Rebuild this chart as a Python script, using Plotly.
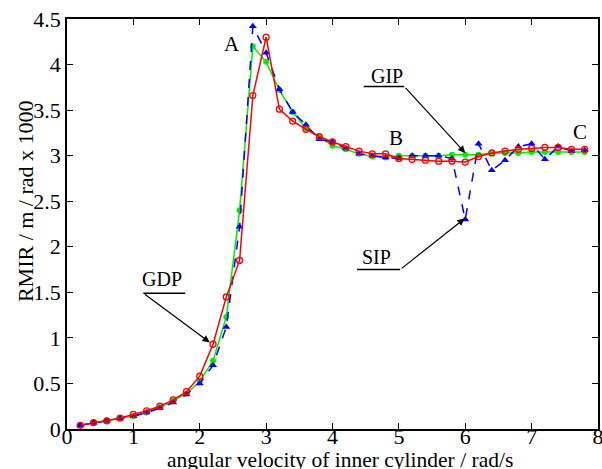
import plotly.graph_objects as go

omega = [0.2, 0.4, 0.6, 0.8, 1.0, 1.2, 1.4, 1.6, 1.8, 2.0, 2.2, 2.4, 2.6, 2.8, 3.0,
         3.2, 3.4, 3.6, 3.8, 4.0, 4.2, 4.4, 4.6, 4.8, 5.0, 5.2, 5.4, 5.6, 5.8, 6.0,
         6.2, 6.4, 6.6, 6.8, 7.0, 7.2, 7.4, 7.6, 7.8]

gdp = [0.04, 0.07, 0.09, 0.12, 0.16, 0.20, 0.25, 0.32, 0.41, 0.58, 0.93, 1.45, 1.85, 3.66, 4.30,
       3.51, 3.38, 3.29, 3.21, 3.15, 3.10, 3.05, 3.02, 3.02, 2.97, 2.96, 2.95, 2.94, 2.94, 2.93,
       2.99, 3.03, 3.05, 3.07, 3.08, 3.09, 3.09, 3.07, 3.07]

gip = [0.04, 0.07, 0.09, 0.12, 0.14, 0.18, 0.24, 0.31, 0.39, 0.52, 0.75, 1.23, 2.40, 4.20, 4.03,
       3.72, 3.48, 3.30, 3.21, 3.11, 3.07, 3.02, 2.99, 2.98, 3.00, 3.00, 3.00, 3.00, 3.01, 3.01,
       3.01, 3.03, 3.03, 3.03, 3.04, 3.04, 3.04, 3.04, 3.04]

sip = [0.04, 0.065, 0.09, 0.115, 0.14, 0.18, 0.23, 0.29, 0.38, 0.50, 0.70, 1.12, 2.22, 4.42, 4.13,
       3.73, 3.48, 3.34, 3.18, 3.15, 3.08, 3.02, 3.00, 2.98, 2.97, 3.00, 3.00, 3.00, 2.97, 2.30,
       3.13, 2.84, 2.95, 3.10, 3.13, 2.96, 3.10, 3.05, 3.06]

x_ticks = [0, 1, 2, 3, 4, 5, 6, 7, 8]
y_ticks = [0, 0.5, 1, 1.5, 2, 2.5, 3, 3.5, 4, 4.5]
y_tick_labels = ["0", "0.5", "1", "1.5", "2", "2.5", "3", "3.5", "4", "4.5"]

FONT = "Liberation Serif"

fig = go.Figure()
fig.add_trace(go.Scatter(x=omega, y=gip, mode="lines+markers", name="GIP",
                         line=dict(color="#00ee00", width=1.5),
                         marker=dict(symbol="circle", size=6, color="#00ee00")))
fig.add_trace(go.Scatter(x=omega, y=sip, mode="lines+markers", name="SIP",
                         line=dict(color="#0000ff", width=1.5, dash="dash"),
                         marker=dict(symbol="triangle-up", size=7, color="#0000ff")))
fig.add_trace(go.Scatter(x=omega, y=gdp, mode="lines+markers", name="GDP",
                         line=dict(color="#ff0000", width=1.5),
                         marker=dict(symbol="circle-open", size=6, color="#ff0000",
                                     line=dict(width=1.3))))

# labels with arrows
labels = [
    ("GIP", 4.82, 3.87, (4.47, 5.08, 3.76), (5.08, 3.76, 6.0, 3.03)),
    ("SIP", 4.67, 1.89, (4.37, 5.02, 1.75), (5.02, 1.75, 5.99, 2.31)),
    ("GDP", 1.43, 1.645, (1.15, 1.78, 1.49), (1.15, 1.49, 2.15, 0.95)),
]
for txt, tx, ty, (u0, u1, uy), (ax_, ay_, hx, hy) in labels:
    fig.add_annotation(x=tx, y=ty, text=txt, showarrow=False,
                       font=dict(family=FONT, size=20, color="black"))
    fig.add_shape(type="line", x0=u0, x1=u1, y0=uy, y1=uy,
                  line=dict(color="black", width=1.5))
    fig.add_annotation(x=hx, y=hy, ax=ax_, ay=ay_, axref="x", ayref="y",
                       text="", showarrow=True, arrowhead=2, arrowsize=1.2,
                       arrowwidth=1.2, arrowcolor="black")

for txt, tx, ty in [("A", 2.49, 4.23), ("B", 4.96, 3.19), ("C", 7.73, 3.26)]:
    fig.add_annotation(x=tx, y=ty, text=txt, showarrow=False,
                       font=dict(family=FONT, size=21, color="black"))

# axis titles
fig.add_annotation(xref="paper", yref="paper", x=0.514, y=-0.0756, yanchor="middle",
                   text="angular velocity of inner cylinder / rad/s", showarrow=False,
                   font=dict(family=FONT, size=21.5, color="black"))
fig.add_annotation(xref="paper", yref="paper", x=-0.079, xanchor="center",
                   y=0.556, text="RMIR / m / rad x 1000", showarrow=False,
                   textangle=-90, font=dict(family=FONT, size=22, color="black"))

axis_common = dict(showgrid=False, zeroline=False, showline=True, linecolor="black",
                   linewidth=1.5, mirror="ticks", ticks="inside", ticklen=6,
                   tickwidth=1.3, tickcolor="black", ticklabeloverflow="allow",
                   tickfont=dict(family=FONT, size=22, color="black"))

fig.update_xaxes(range=[0, 8], tickvals=x_ticks, ticklabelstandoff=-13, **axis_common)
fig.update_yaxes(range=[0, 4.5], tickvals=y_ticks, ticktext=y_tick_labels, **axis_common)

fig.update_layout(width=602, height=469, showlegend=False,
                  plot_bgcolor="white", paper_bgcolor="white",
                  margin=dict(l=67, r=4, t=19, b=40, autoexpand=False))

fig.write_html("out.html",
               config={"displayModeBar": False},
               post_script="document.body.style.margin='0';"
                           "document.documentElement.style.overflow='hidden';"
                           "document.body.style.overflow='hidden';")
